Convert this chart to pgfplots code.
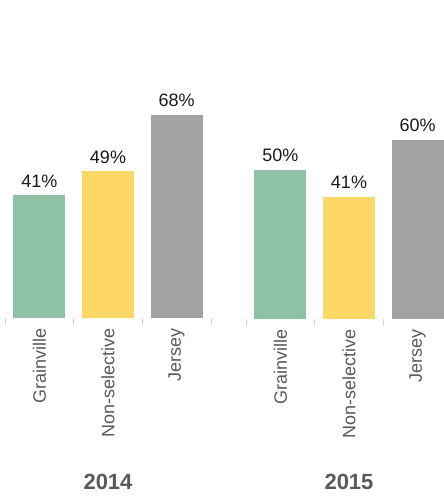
\documentclass[border=0pt]{standalone}
\usepackage{fontspec}
\setmainfont{Liberation Sans}
\usepackage{pgfplots}
\pgfplotsset{compat=1.18}

\definecolor{grain}{HTML}{8FC1A6}
\definecolor{nonsel}{HTML}{FED866}
\definecolor{jersey}{HTML}{A2A2A2}
\definecolor{labgray}{HTML}{595959}
\definecolor{tickgray}{HTML}{D4D4D4}
\definecolor{valtext}{HTML}{1A1A1A}

\tikzset{year/.style={font=\fontsize{22bp}{24bp}\selectfont\bfseries, text=labgray}}

\pgfplotsset{
  panel/.style={
    scale only axis, width=206bp, height=298bp,
    xmin=-0.5, xmax=2.5, ymin=0, ymax=100,
    axis line style={draw=none},
    ytick=\empty,
    xtick={0,1,2},
    xticklabels={Grainville,Non-selective,Jersey},
    xtick pos=bottom,
    tick align=outside,
    major tick length=0pt,
    extra x ticks={-0.5,0.5,1.5,2.5},
    extra x tick labels={},
    extra x tick style={major tick length=7bp, xtick pos=bottom,
      tick style={draw=tickgray, line width=1bp}},
    xticklabel style={rotate=90, anchor=east, inner sep=0pt, xshift=-11bp,
      font=\fontsize{18bp}{20bp}\selectfont, text=labgray},
    /pgf/number format/assume math mode=true,
    ybar, bar width=0.757, bar shift=0pt,
    nodes near coords={\pgfmathprintnumber{\pgfplotspointmeta}\%},
    every node near coord/.append style={anchor=south, inner sep=0pt, yshift=8bp,
      font=\fontsize{18bp}{20bp}\selectfont, text=valtext},
    clip=false,
  },
}

\begin{document}
\begin{tikzpicture}
  \useasboundingbox (0,0) rectangle (444bp,496bp);
  \clip (0,0) rectangle (444bp,496bp);

  % 2014
  \begin{axis}[panel, at={(5bp,178.5bp)}, anchor=south west]
    \addplot[draw=none, fill=grain]  coordinates {(0,41)};
    \addplot[draw=none, fill=nonsel] coordinates {(1,49)};
    \addplot[draw=none, fill=jersey] coordinates {(2,68)};
    \node[year] at (rel axis cs:0.5,0) [yshift=-164.5bp] {2014};
  \end{axis}

  % 2015
  \begin{axis}[panel, at={(246bp,177.3bp)}, anchor=south west]
    \addplot[draw=none, fill=grain]  coordinates {(0,50)};
    \addplot[draw=none, fill=nonsel] coordinates {(1,41)};
    \addplot[draw=none, fill=jersey] coordinates {(2,60)};
    \node[year] at (rel axis cs:0.5,0) [yshift=-163.3bp] {2015};
  \end{axis}
\end{tikzpicture}
\end{document}
